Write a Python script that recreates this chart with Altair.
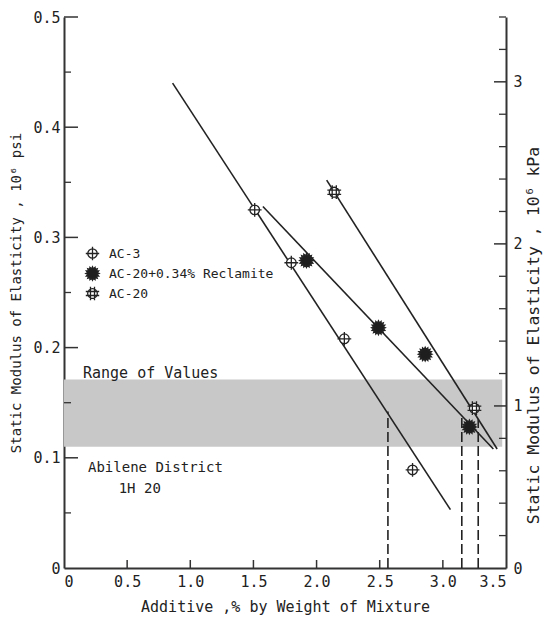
import math
import altair as alt
import pandas as pd

# ---------------- data ----------------
series_names = ["AC-3", "AC-20+0.34% Reclamite", "AC-20"]

ac3_x = [1.51, 1.80, 2.22, 2.76]
ac3_y = [0.325, 0.277, 0.208, 0.089]
rec_x = [1.92, 2.49, 2.86, 3.21]
rec_y = [0.279, 0.218, 0.194, 0.128]
ac20_x = [2.14, 3.25]
ac20_y = [0.341, 0.145]

# fitted straight lines (end points)
fit_series = ["AC-3", "AC-3", "AC-20+0.34% Reclamite", "AC-20+0.34% Reclamite", "AC-20", "AC-20"]
fit_x = [0.86, 3.06, 1.575, 3.40, 2.08, 3.43]
fit_y = [0.440, 0.053, 0.328, 0.108, 0.352, 0.108]

# range of values band (Abilene District IH 20)
band_x = [0.0, 3.47]
band_y = [0.110, 0.171]

# dashed verticals
dash_x = [2.565, 3.15, 3.28]
dash_top = [0.142, 0.138, 0.135]

# axes
x_ticks = [0, 0.5, 1.0, 1.5, 2.0, 2.5, 3.0, 3.5]
psi_major = [0, 0.1, 0.2, 0.3, 0.4, 0.5]
psi_minor = [0.05, 0.15, 0.25, 0.35, 0.45]
kpa_top = 3.4
kpa_major = [0, 1, 2, 3]
kpa_minor = [0.2, 0.4, 0.6, 0.8, 1.2, 1.4, 1.6, 1.8, 2.2, 2.4, 2.6, 2.8, 3.2, 3.4]

# annotations
ann_text = ["Range of Values", "Abilene District", "1H 20"]
ann_x = [0.15, 0.19, 0.60]
ann_y = [0.177, 0.091, 0.072]
ann_align = ["left", "left", "center"]
ann_size = [15, 14, 14]

# ---------------- frames ----------------
pts = pd.DataFrame(
    {"x": ac3_x + rec_x + ac20_x,
     "y": ac3_y + rec_y + ac20_y,
     "series": ["AC-3"] * len(ac3_x) + ["AC-20+0.34% Reclamite"] * len(rec_x) + ["AC-20"] * len(ac20_x)}
)
fits = pd.DataFrame({"x": fit_x, "y": fit_y, "series": fit_series})
band = pd.DataFrame({"x": [band_x[0]], "x2": [band_x[1]], "y": [band_y[0]], "y2": [band_y[1]]})
dashes = pd.DataFrame({"x": dash_x, "y": [0] * len(dash_x), "y2": dash_top})
xt = pd.DataFrame({"x": x_ticks[1:-1]})
pmaj = pd.DataFrame({"y": psi_major[1:]})
pmin = pd.DataFrame({"y": psi_minor})
kmaj = pd.DataFrame({"k": kpa_major[1:]})
kmin = pd.DataFrame({"k": kpa_minor})
ann = pd.DataFrame({"t": ann_text, "x": ann_x, "y": ann_y, "a": ann_align, "s": ann_size})

W, H = 442, 551
INK = "#222222"
FONT = "DejaVu Sans Mono"

# marker shapes (unit box)
def ring(r):
    return f"M {-r},0 A {r},{r} 0 1,1 {r},0 A {r},{r} 0 1,1 {-r},0 Z"

def gear(n=16, r1=1.0, r2=0.72):
    p = []
    for i in range(2 * n):
        r = r1 if i % 2 == 0 else r2
        a = math.pi * i / n
        p.append(f"{r * math.cos(a):.3f},{r * math.sin(a):.3f}")
    return "M " + " L ".join(p) + " Z"

shape_ac3 = ring(0.7) + " M -1,0 L 1,0 M 0,-1 L 0,1"
shape_rec = gear()
shape_ac20 = ring(0.72) + " M -0.3,-1 L -0.3,1 M 0.3,-1 L 0.3,1 M -1,-0.3 L 1,-0.3 M -1,0.3 L 1,0.3"

xs = alt.Scale(domain=[0, 3.5], nice=False, zero=False)
ys = alt.Scale(domain=[0, 0.5], nice=False)

x_axis = alt.Axis(values=x_ticks, labelExpr="datum.value == 0 ? '0' : format(datum.value, '.1f')",
                  ticks=False, grid=False, labelPadding=6, domainWidth=2, domainColor="#333",
                  title="Additive ,% by Weight of Mixture", titlePadding=10)
y_axis = alt.Axis(values=psi_major, labelExpr="datum.value == 0 ? '0' : format(datum.value, '.1f')",
                  ticks=False, grid=False, labelPadding=4, domainWidth=2, domainColor="#333",
                  title="Static Modulus of Elasticity , 10⁶ psi", titleFontSize=14, titlePadding=9)

X = lambda f: alt.X(f, scale=xs, axis=x_axis)
Y = lambda f: alt.Y(f, scale=ys, axis=y_axis)

band_l = alt.Chart(band).mark_rect(color="#c8c8c8").encode(
    x=X("x:Q"), x2="x2:Q", y=Y("y:Q"), y2="y2:Q")

dash_l = alt.Chart(dashes).mark_rule(color=INK, strokeWidth=1.6, strokeDash=[10, 4]).encode(
    x=X("x:Q"), y=Y("y:Q"), y2="y2:Q")

fit_l = alt.Chart(fits).mark_line(color=INK, strokeWidth=1.6).encode(
    x=X("x:Q"), y=Y("y:Q"), detail="series:N")

leg = dict(title=None, orient="none", legendX=21, legendY=229, labelLimit=400)
pt_l = alt.Chart(pts).mark_point(filled=True, size=190, strokeWidth=1.3, opacity=1).encode(
    x=X("x:Q"), y=Y("y:Q"),
    shape=alt.Shape("series:N", scale=alt.Scale(domain=series_names, range=[shape_ac3, shape_rec, shape_ac20]),
                    legend=alt.Legend(**leg)),
    fill=alt.Fill("series:N", scale=alt.Scale(domain=series_names, range=["white", "#1e1e1e", "white"]),
                  legend=alt.Legend(**leg)),
    stroke=alt.Stroke("series:N", scale=alt.Scale(domain=series_names, range=[INK, INK, INK]),
                      legend=alt.Legend(**leg)),
)

xt_l = alt.Chart(xt).mark_rule(color="#333", strokeWidth=1.5).encode(
    x=X("x:Q"), y=alt.value(H), y2=alt.value(H - 8))
pmaj_l = alt.Chart(pmaj).mark_rule(color="#333", strokeWidth=1.5).encode(
    y=Y("y:Q"), x=alt.value(0), x2=alt.value(14))
pmin_l = alt.Chart(pmin).mark_rule(color="#333", strokeWidth=1.3).encode(
    y=Y("y:Q"), x=alt.value(0), x2=alt.value(7))

ann_left = alt.Chart(ann[ann.a == "left"]).mark_text(font=FONT, color=INK, baseline="middle", align="left").encode(
    x=X("x:Q"), y=Y("y:Q"), text="t:N", size=alt.Size("s:Q", scale=None, legend=None))
ann_center = alt.Chart(ann[ann.a == "center"]).mark_text(font=FONT, color=INK, baseline="middle", align="center").encode(
    x=X("x:Q"), y=Y("y:Q"), text="t:N", size=alt.Size("s:Q", scale=None, legend=None))

psi_layer = alt.layer(band_l, dash_l, fit_l, pt_l, xt_l, pmaj_l, pmin_l, ann_left, ann_center)

ks = alt.Scale(domain=[0, kpa_top], nice=False)
k_axis = alt.Axis(orient="right", values=kpa_major, format="d", ticks=False, grid=False,
                  labelPadding=7, domainWidth=2, domainColor="#333",
                  title="Static Modulus of Elasticity , 10⁶ kPa", titleFontSize=16.5, titleAngle=270,
                  titleBaseline="middle", titleAlign="center", titleX=27, titleY=318)
kmaj_l = alt.Chart(kmaj).mark_rule(color="#333", strokeWidth=1.5).encode(
    y=alt.Y("k:Q", scale=ks, axis=k_axis), x=alt.value(W), x2=alt.value(W - 12))
kmin_l = alt.Chart(kmin).mark_rule(color="#333", strokeWidth=1.3).encode(
    y=alt.Y("k:Q", scale=ks, axis=k_axis), x=alt.value(W), x2=alt.value(W - 7))
kpa_layer = alt.layer(kmaj_l, kmin_l)

chart = alt.layer(psi_layer, kpa_layer).resolve_scale(y="independent").properties(
    width=W, height=H,
    autosize=alt.AutoSizeParams(type="none"),
    padding={"left": 64, "top": 17, "right": 39, "bottom": 52},
).configure_view(stroke=None).configure_axis(
    labelFont=FONT, labelFontSize=15, labelColor=INK,
    titleFont=FONT, titleFontSize=15, titleFontWeight="normal", titleColor=INK,
).configure_legend(
    labelFont=FONT, labelFontSize=13, labelColor=INK, symbolSize=180,
    symbolStrokeWidth=1.3, rowPadding=1, labelOffset=9, padding=0, labelLimit=400,
)

chart.save("out.html", embed_options={"renderer": "svg", "actions": False})
